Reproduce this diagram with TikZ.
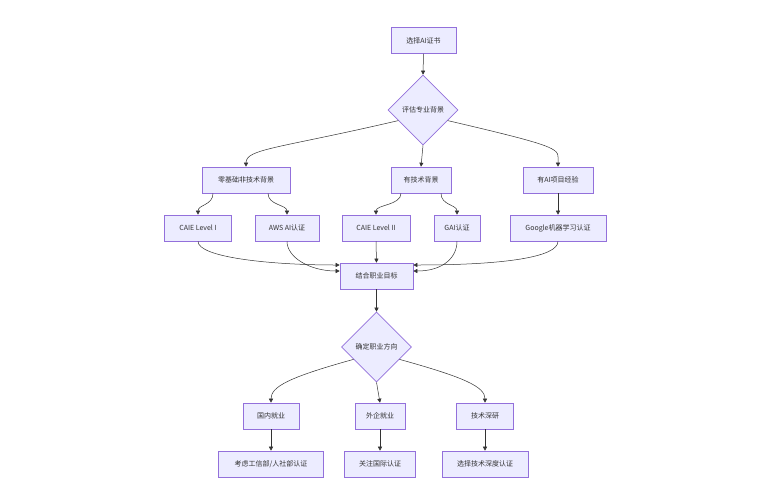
\documentclass[tikz,border=0pt]{standalone}
\usepackage{fontspec}
\setmainfont{Noto Sans CJK SC}
\usetikzlibrary{shapes.geometric,arrows.meta,calc}
\definecolor{mmfill}{HTML}{ECECFF}
\definecolor{mmstroke}{HTML}{9370DB}
\definecolor{mmline}{HTML}{333333}
\definecolor{mmtext}{HTML}{333333}
\begin{document}
\begin{tikzpicture}[x=1pt,y=-1pt,
  box/.style={draw=mmstroke, fill=mmfill, line width=0.6pt, minimum height=26pt, inner sep=0pt, font=\fontsize{7}{8}\selectfont, text=mmtext},
  dia/.style={draw=mmstroke, fill=mmfill, line width=0.6pt, diamond, minimum width=70pt, minimum height=70pt, inner sep=0pt, font=\fontsize{7}{8}\selectfont, text=mmtext},
  arr/.style={draw=mmline, line width=0.5pt, -{Triangle[length=4pt,width=4pt]}}]
\useasboundingbox[fill=white] (0,0) rectangle (761,496);

\node[box, minimum width=65pt] (a) at (423.5,40.5) {选择AI证书};
\node[dia] (d1) at (423,110) {评估专业背景};

\node[box, minimum width=88pt] (b1) at (246,180) {零基础非技术背景};
\node[box, minimum width=60pt] (b2) at (421,180) {有技术背景};
\node[box, minimum width=70pt] (b3) at (558,180) {有AI项目经验};

\node[box, minimum width=67pt] (c1) at (198,228) {CAIE Level I};
\node[box, minimum width=64pt] (c2) at (287,228) {AWS AI认证};
\node[box, minimum width=68pt] (c3) at (376,228) {CAIE Level II};
\node[box, minimum width=46pt] (c4) at (457,228) {GAI认证};
\node[box, minimum width=96pt] (c5) at (558,228) {Google机器学习认证};

\node[box, minimum width=73pt] (e) at (376.5,276) {结合职业目标};
\node[dia] (d2) at (376.5,347) {确定职业方向};

\node[box, minimum width=56pt] (f1) at (271,416) {国内就业};
\node[box, minimum width=50pt] (f2) at (380,416) {外企就业};
\node[box, minimum width=57pt] (f3) at (485,416) {技术深研};

\node[box, minimum width=105pt] (g1) at (271,464) {考虑工信部/人社部认证};
\node[box, minimum width=71pt] (g2) at (380,464) {关注国际认证};
\node[box, minimum width=86pt] (g3) at (485,464) {选择技术深度认证};

% edges
\draw[arr] (a.south) -- (d1.north);
\draw[arr] ($(d1.west)!0.3!(d1.south)$) .. controls +(-120,28) and +(0,-18) .. (b1.north);
\draw[arr] (d1.south) -- (b2.north);
\draw[arr] ($(d1.east)!0.3!(d1.south)$) .. controls +(120,28) and +(0,-18) .. (b3.north);

\draw[arr] ($(b1.south)+(-33,0)$) .. controls +(0,12) and +(0,-10) .. (c1.north);
\draw[arr] ($(b1.south)+(22,0)$) .. controls +(0,12) and +(0,-10) .. (c2.north);
\draw[arr] ($(b2.south)+(-20,0)$) .. controls +(0,12) and +(0,-10) .. (c3.north);
\draw[arr] ($(b2.south)+(20,0)$) .. controls +(0,12) and +(0,-10) .. (c4.north);
\draw[arr] (b3.south) -- (c5.north);

\draw[arr] (c1.south) .. controls +(0,16) and +(-70,0) .. ($(e.west)+(0,-11)$);
\draw[arr] (c2.south) .. controls +(0,16) and +(-30,0) .. ($(e.west)+(0,-5)$);
\draw[arr] (c3.south) -- (e.north);
\draw[arr] (c4.south) .. controls +(0,16) and +(30,0) .. ($(e.east)+(0,-5)$);
\draw[arr] (c5.south) .. controls +(0,16) and +(90,0) .. ($(e.east)+(0,-11)$);

\draw[arr] (e.south) -- (d2.north);
\draw[arr] ($(d2.west)!0.35!(d2.south)$) .. controls +(-65,18) and +(0,-16) .. (f1.north);
\draw[arr] (d2.south) -- (f2.north);
\draw[arr] ($(d2.east)!0.35!(d2.south)$) .. controls +(65,18) and +(0,-16) .. (f3.north);

\draw[arr] (f1.south) -- (g1.north);
\draw[arr] (f2.south) -- (g2.north);
\draw[arr] (f3.south) -- (g3.north);
\end{tikzpicture}
\end{document}
